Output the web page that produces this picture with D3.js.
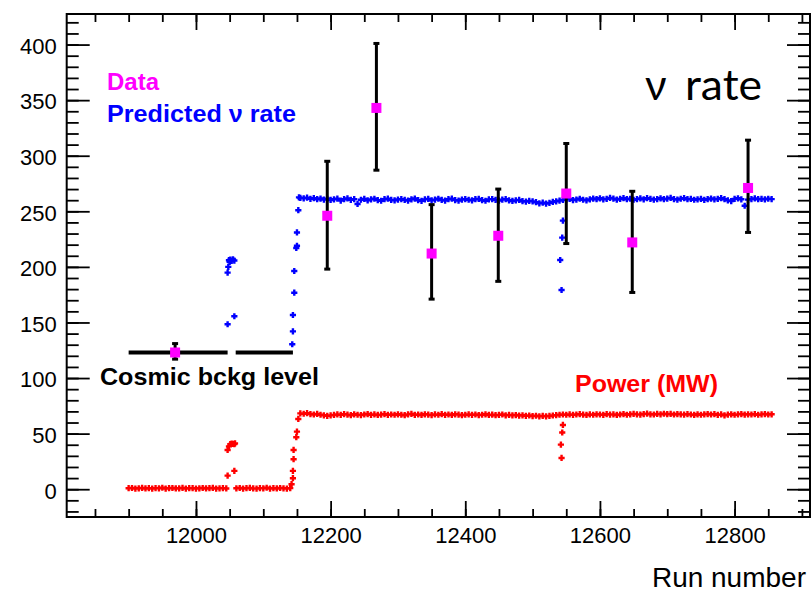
<!DOCTYPE html>
<html><head><meta charset="utf-8">
<script src="https://cdn.jsdelivr.net/npm/d3@7"></script>
<style>body{margin:0;background:#fff} svg{display:block}</style>
</head><body><svg id="c" width="812" height="592"></svg>
<script>
// ---------- data ----------
const xTickValues = [12000, 12200, 12400, 12600, 12800];
const yTickValues = [0, 50, 100, 150, 200, 250, 300, 350, 400];

// measured data (magenta squares with error bars)
const dataRuns     = [11969, 12195, 12268, 12350, 12449, 12550, 12648, 12820];
const dataRate     = [123, 246, 343, 212, 228, 266, 222, 271];
const dataErrLow   = [117, 198, 287, 171, 187, 221, 177, 231];
const dataErrHigh  = [131, 295, 401, 256, 270, 311, 268, 314];

// cosmic background level
const cosmicLevel = 123;
const cosmicSegments = [[11900, 12047], [12059, 12144]];

// predicted nu rate: plateau sampled every 5 runs from 12155
const predPlateauStart = 12155, predPlateauStep = 5;
const predPlateau = [
 262.0, 261.6, 262.3, 261.2, 261.8, 260.9, 261.5, 260.6, 261.3, 260.2,
 260.8, 261.4, 259.7, 260.9, 261.6, 260.3, 261.0, 256.6, 260.4, 261.2,
 259.8, 260.7, 261.3, 260.1, 259.5, 260.9, 261.4, 260.2, 259.9, 260.6,
 261.0, 260.3, 259.6, 260.8, 261.5, 260.0, 259.4, 260.7, 261.1, 259.8,
 260.5, 261.3, 260.2, 259.7, 260.9, 261.4, 260.1, 259.6, 260.6, 261.0,
 260.4, 259.8, 260.9, 261.2, 260.0, 259.5, 260.7, 261.0, 260.3, 259.7,
 260.5, 260.9, 259.9, 259.3, 259.8, 260.2, 259.1, 258.7, 259.4, 258.9,
 258.2, 257.1, 257.8, 256.9, 257.6, 258.4, 259.0, 259.6, 260.2,
 260.8, 261.2, 260.1, 260.6, 261.3, 260.4, 259.9, 260.7, 261.5, 260.9,
 261.7, 260.8, 261.2, 262.0, 261.4, 260.6, 261.1, 261.8, 260.9, 261.3,
 260.4, 261.0, 261.6, 260.8, 261.9, 261.2, 260.5, 261.0, 261.7, 260.9,
 261.4, 262.1, 261.0, 260.6, 261.3, 261.8, 260.9, 261.2, 260.4, 260.8,
 261.2, 260.3, 260.9, 261.5, 260.7, 261.1, 261.8, 260.9, 259.8, 259.2,
 261.2, 261.7, 260.8, 255.0, 260.5, 261.0, 261.6, 260.9, 261.2, 260.7,
 261.3, 261.0
];
// predicted nu rate: transition points (run, rate)
const predTransRuns = [12047, 12048, 12049, 12050, 12051, 12053, 12055, 12057, 12057, 12047,
                       12143, 12144, 12144, 12146, 12146, 12149, 12150, 12150, 12152, 12153,
                       12545, 12544, 12541, 12543];
const predTransRate = [194.8, 200.0, 206.0, 204.5, 206.5, 205.5, 206.8, 205.7, 155.6, 148.4,
                       130.4, 142.0, 156.7, 176.8, 196.3, 217.0, 219.0, 231.0, 251.0, 262.5,
                       241.6, 226.3, 206.2, 179.2];

// reactor power (MW)
const powerOffStart1 = 11900, powerOffStart2 = 12060, powerStep = 5;
const powerOff1 = [0.9, 1.1, 0.6, 0.8, 1.2, 0.7, 0.9, 0.5, 1.0, 0.8, 1.3, 0.6, 0.9, 1.1, 0.7,
                   0.8, 1.2, 0.5, 0.9, 1.0, 0.6, 0.8, 1.1, 0.7, 0.9, 1.2, 0.6, 0.8, 1.0, 0.7];
const powerOff2 = [0.8, 1.1, 0.6, 0.9, 1.2, 0.7, 0.5, 1.0, 0.8, 1.3, 0.6, 0.9, 0.7, 1.1, 0.8, 0.6, 1.0];
const powerPlateauStart = 12155;
const powerPlateau = [
 68.2, 67.9, 68.4, 67.6, 67.2, 67.8, 67.0, 66.5, 66.0, 66.4,
 66.8, 67.3, 66.9, 67.5, 67.1, 66.6, 67.4, 67.0, 66.7, 67.2,
 67.6, 66.9, 67.3, 66.8, 67.1, 67.5, 66.9, 67.2, 67.0, 67.4,
 67.0, 66.6, 67.3, 67.7, 66.9, 67.2, 66.8, 67.4, 67.1, 66.7,
 67.3, 67.0, 67.5, 66.9, 67.2, 66.8, 67.4, 67.1, 66.6, 67.0,
 67.3, 66.9, 67.2, 66.7, 67.0, 67.4, 66.8, 67.1, 66.6, 66.9,
 67.2, 66.5, 66.8, 66.4, 66.7, 66.2, 66.5, 66.0, 66.3, 65.8,
 66.1, 65.6, 66.0, 65.5, 65.9, 66.3, 66.6, 67.0, 67.2,
 67.0, 67.3, 66.9, 67.2, 67.5, 67.1, 66.8, 67.3, 67.0, 67.4,
 67.2, 66.9, 67.5, 67.1, 67.3, 66.8, 67.2, 67.6, 67.0, 67.4,
 67.8, 67.3, 67.1, 67.6, 68.0, 67.4, 67.2, 67.7, 67.3, 67.9,
 67.5, 67.8, 67.2, 67.6, 67.3, 67.1, 67.5, 67.2, 66.8, 67.4,
 67.0, 67.3, 67.6, 67.2, 67.5, 66.9, 67.3, 66.5, 67.1, 67.4,
 67.0, 67.3, 67.6, 67.1, 67.4, 67.2, 67.5, 67.0, 67.3, 67.6,
 67.2, 67.4
];
const powerTransRuns = [12047, 12047, 12049, 12051, 12053, 12055, 12057, 12058, 12057,
                        12142, 12144, 12144, 12145, 12145, 12149, 12150, 12152,
                        12545, 12544, 12542, 12543];
const powerTransMW   = [12.2, 35.3, 38.5, 40.5, 41.0, 40.8, 40.6, 41.2, 16.5,
                        4.5, 9.9, 16.5, 27.0, 35.3, 46.8, 51.8, 63.2,
                        57.8, 51.0, 40.1, 28.1];

// ---------- chart ----------
const svg = d3.select('#c');
const L = 66.7, R = 810, T = 14, B = 517;
const x = d3.scaleLinear().domain([11808, 12912]).range([L, R]);
const y = d3.scaleLinear().domain([-25, 427.5]).range([B, T]);

svg.append('rect').attr('width', 812).attr('height', 592).attr('fill', '#fff');

const xMinor = d3.range(11850, 12901, 50);
const yMinor = d3.range(-20, 421, 10);
const tickStyle = g => { g.select('.domain').remove(); g.selectAll('line').attr('stroke', '#000').attr('stroke-width', 1.8); };

// bottom axis
svg.append('g').attr('transform', `translate(0,${B})`)
  .call(d3.axisBottom(x).tickValues(xMinor).tickSize(-8).tickFormat('')).call(tickStyle);
svg.append('g').attr('transform', `translate(0,${B})`)
  .call(d3.axisBottom(x).tickValues(xTickValues).tickSize(-16).tickPadding(10.5).tickFormat(d3.format('d')))
  .call(tickStyle)
  .call(g => g.selectAll('text').attr('font-family', 'Liberation Sans, Arial, sans-serif').attr('font-size', 22).attr('fill', '#000'));
// top axis
svg.append('g').attr('transform', `translate(0,${T})`)
  .call(d3.axisTop(x).tickValues(xMinor).tickSize(-8).tickFormat('')).call(tickStyle);
svg.append('g').attr('transform', `translate(0,${T})`)
  .call(d3.axisTop(x).tickValues(xTickValues).tickSize(-16).tickFormat('')).call(tickStyle);
// left axis
svg.append('g').attr('transform', `translate(${L},0)`)
  .call(d3.axisLeft(y).tickValues(yMinor).tickSize(-12).tickFormat('')).call(tickStyle);
svg.append('g').attr('transform', `translate(${L},0)`)
  .call(d3.axisLeft(y).tickValues(yTickValues).tickSize(-23).tickPadding(10).tickFormat(d3.format('d')))
  .call(tickStyle)
  .call(g => g.selectAll('text').attr('font-family', 'Liberation Sans, Arial, sans-serif').attr('font-size', 22).attr('fill', '#000').attr('dy', '0.4em'));
// right axis
svg.append('g').attr('transform', `translate(${R},0)`)
  .call(d3.axisRight(y).tickValues(yMinor).tickSize(-12).tickFormat('')).call(tickStyle);
svg.append('g').attr('transform', `translate(${R},0)`)
  .call(d3.axisRight(y).tickValues(yTickValues).tickSize(-23).tickFormat('')).call(tickStyle);

// frame
svg.append('rect').attr('x', L).attr('y', T).attr('width', R - L).attr('height', B - T)
  .attr('fill', 'none').attr('stroke', '#000').attr('stroke-width', 2);

// helper: build point lists
function plateauPoints(start, step, vals) { return vals.map((v, i) => [start + i * step, v]); }
function pairPoints(runs, vals) { return runs.map((r, i) => [r, vals[i]]); }
function crossPath(pts) {
  const a = 3.1;
  return pts.map(([r, v]) => { const px = x(r), py = y(v); return `M${px - a},${py}h${2 * a}M${px},${py - a}v${2 * a}`; }).join('');
}

const powerPts = [].concat(
  plateauPoints(powerOffStart1, powerStep, powerOff1),
  plateauPoints(powerOffStart2, powerStep, powerOff2),
  plateauPoints(powerPlateauStart, powerStep, powerPlateau),
  pairPoints(powerTransRuns, powerTransMW));
const predPts = [].concat(
  plateauPoints(predPlateauStart, predPlateauStep, predPlateau),
  pairPoints(predTransRuns, predTransRate));

svg.append('path').attr('d', crossPath(powerPts)).attr('stroke', '#ff0000').attr('stroke-width', 2.4).attr('fill', 'none');
svg.append('path').attr('d', crossPath(predPts)).attr('stroke', '#0000ff').attr('stroke-width', 2.4).attr('fill', 'none');

// cosmic background level
svg.append('g').selectAll('line').data(cosmicSegments).join('line')
  .attr('x1', d => x(d[0])).attr('x2', d => x(d[1]))
  .attr('y1', y(cosmicLevel)).attr('y2', y(cosmicLevel))
  .attr('stroke', '#000').attr('stroke-width', 4);

// data points with error bars
const dg = svg.append('g');
dataRuns.forEach((r, i) => {
  const px = x(r);
  dg.append('line').attr('x1', px).attr('x2', px).attr('y1', y(dataErrLow[i])).attr('y2', y(dataErrHigh[i]))
    .attr('stroke', '#000').attr('stroke-width', 3);
  [dataErrLow[i], dataErrHigh[i]].forEach(v => dg.append('line').attr('x1', px - 3).attr('x2', px + 3)
    .attr('y1', y(v)).attr('y2', y(v)).attr('stroke', '#000').attr('stroke-width', 3));
  dg.append('rect').attr('x', px - 5).attr('y', y(dataRate[i]) - 5).attr('width', 10).attr('height', 10).attr('fill', '#ff00ff');
});

// texts
const bold = 'Liberation Sans, Arial, Helvetica, sans-serif';
function label(txt, tx, ty, col, len) {
  svg.append('text').attr('x', tx).attr('y', ty).text(txt)
    .attr('font-family', bold).attr('font-weight', 'bold').attr('font-size', 24.5).attr('fill', col)
    .attr('textLength', len).attr('lengthAdjust', 'spacingAndGlyphs');
}
label('Data', 107, 90, '#ff00ff', 52);
label('Predicted ν rate', 107, 121.5, '#0000ff', 189);
label('Cosmic bckg level', 100, 385, '#000', 219);
label('Power (MW)', 575, 391.5, '#ff0000', 143);
svg.append('text').attr('x', 806).attr('y', 587).attr('text-anchor', 'end').text('Run number')
  .attr('font-family', bold).attr('font-size', 28).attr('fill', '#000');
svg.append('text').attr('x', 645).attr('y', 100).text('ν')
  .attr('font-family', 'Lato, Open Sans, sans-serif').attr('font-size', 42).attr('fill', '#000');
svg.append('text').attr('x', 685).attr('y', 100).text('rate')
  .attr('font-family', 'Lato, Open Sans, sans-serif').attr('font-size', 42).attr('fill', '#000')
  .attr('textLength', 77).attr('lengthAdjust', 'spacingAndGlyphs');
</script></body></html>
